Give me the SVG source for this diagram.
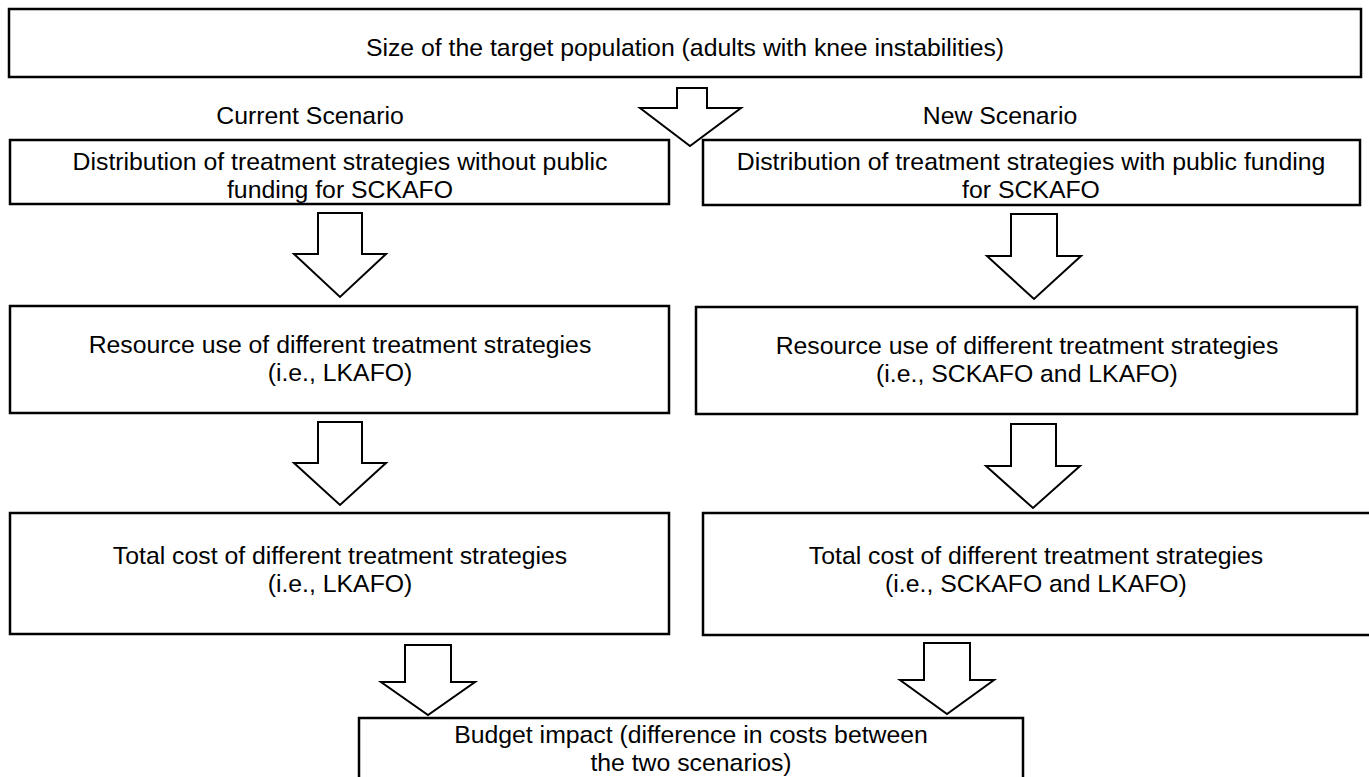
<svg xmlns="http://www.w3.org/2000/svg" width="1369" height="777" viewBox="0 0 1369 777">
<style>
.box{fill:#fff;stroke:#000;stroke-width:2.5}
.arr{fill:#fff;stroke:#000;stroke-width:2;stroke-linejoin:miter}
text{font-family:"Liberation Sans",Arial,sans-serif;font-size:24.8px;fill:#000;text-anchor:middle}
</style>
<rect width="1369" height="777" fill="#fff"/>
<g id="connectors">
<path class="arr" d="M677,88 H707 V108 H741 L690,146 L640,108 H677 Z"/>
<path class="arr" d="M318,213 H362 V254 H386 L340,297 L294,254 H318 Z"/>
<path class="arr" d="M318,422 H362 V463 H386 L340,505 L294,463 H318 Z"/>
<path class="arr" d="M1011,214 H1057 V256 H1081 L1034,299 L987,256 H1011 Z"/>
<path class="arr" d="M1011,424 H1056 V466 H1080 L1033,508 L986,466 H1011 Z"/>
<path class="arr" d="M405,645 H451 V682 H475 L428,715 L381,682 H405 Z"/>
<path class="arr" d="M924,643 H970 V680 H994 L947,714 L900,680 H924 Z"/>
</g>
<g id="top">
<rect class="box" x="9" y="9" width="1352" height="68"/>
<text x="685" y="56">Size of the target population (adults with knee instabilities)</text>
</g>
<g id="label-current"><text x="310" y="124">Current Scenario</text></g>
<g id="label-new"><text x="1000" y="124">New Scenario</text></g>
<g id="current-dist">
<rect class="box" x="10" y="140" width="659" height="64"/>
<text x="340" y="170">Distribution of treatment strategies without public</text>
<text x="340" y="198">funding for SCKAFO</text>
</g>
<g id="new-dist">
<rect class="box" x="703" y="140" width="657" height="65"/>
<text x="1031" y="170">Distribution of treatment strategies with public funding</text>
<text x="1031" y="198">for SCKAFO</text>
</g>
<g id="current-resource">
<rect class="box" x="10" y="306" width="659" height="107"/>
<text x="340" y="353">Resource use of different treatment strategies</text>
<text x="340" y="381">(i.e., LKAFO)</text>
</g>
<g id="new-resource">
<rect class="box" x="696" y="307" width="661" height="107"/>
<text x="1027" y="354">Resource use of different treatment strategies</text>
<text x="1027" y="382">(i.e., SCKAFO and LKAFO)</text>
</g>
<g id="current-cost">
<rect class="box" x="10" y="513" width="659" height="121"/>
<text x="340" y="564">Total cost of different treatment strategies</text>
<text x="340" y="592">(i.e., LKAFO)</text>
</g>
<g id="new-cost">
<rect class="box" x="703" y="513" width="670" height="122"/>
<text x="1036" y="564">Total cost of different treatment strategies</text>
<text x="1036" y="592">(i.e., SCKAFO and LKAFO)</text>
</g>
<g id="budget">
<rect class="box" x="359" y="718" width="664" height="70"/>
<text x="691" y="743">Budget impact (difference in costs between</text>
<text x="691" y="771">the two scenarios)</text>
</g>
</svg>
